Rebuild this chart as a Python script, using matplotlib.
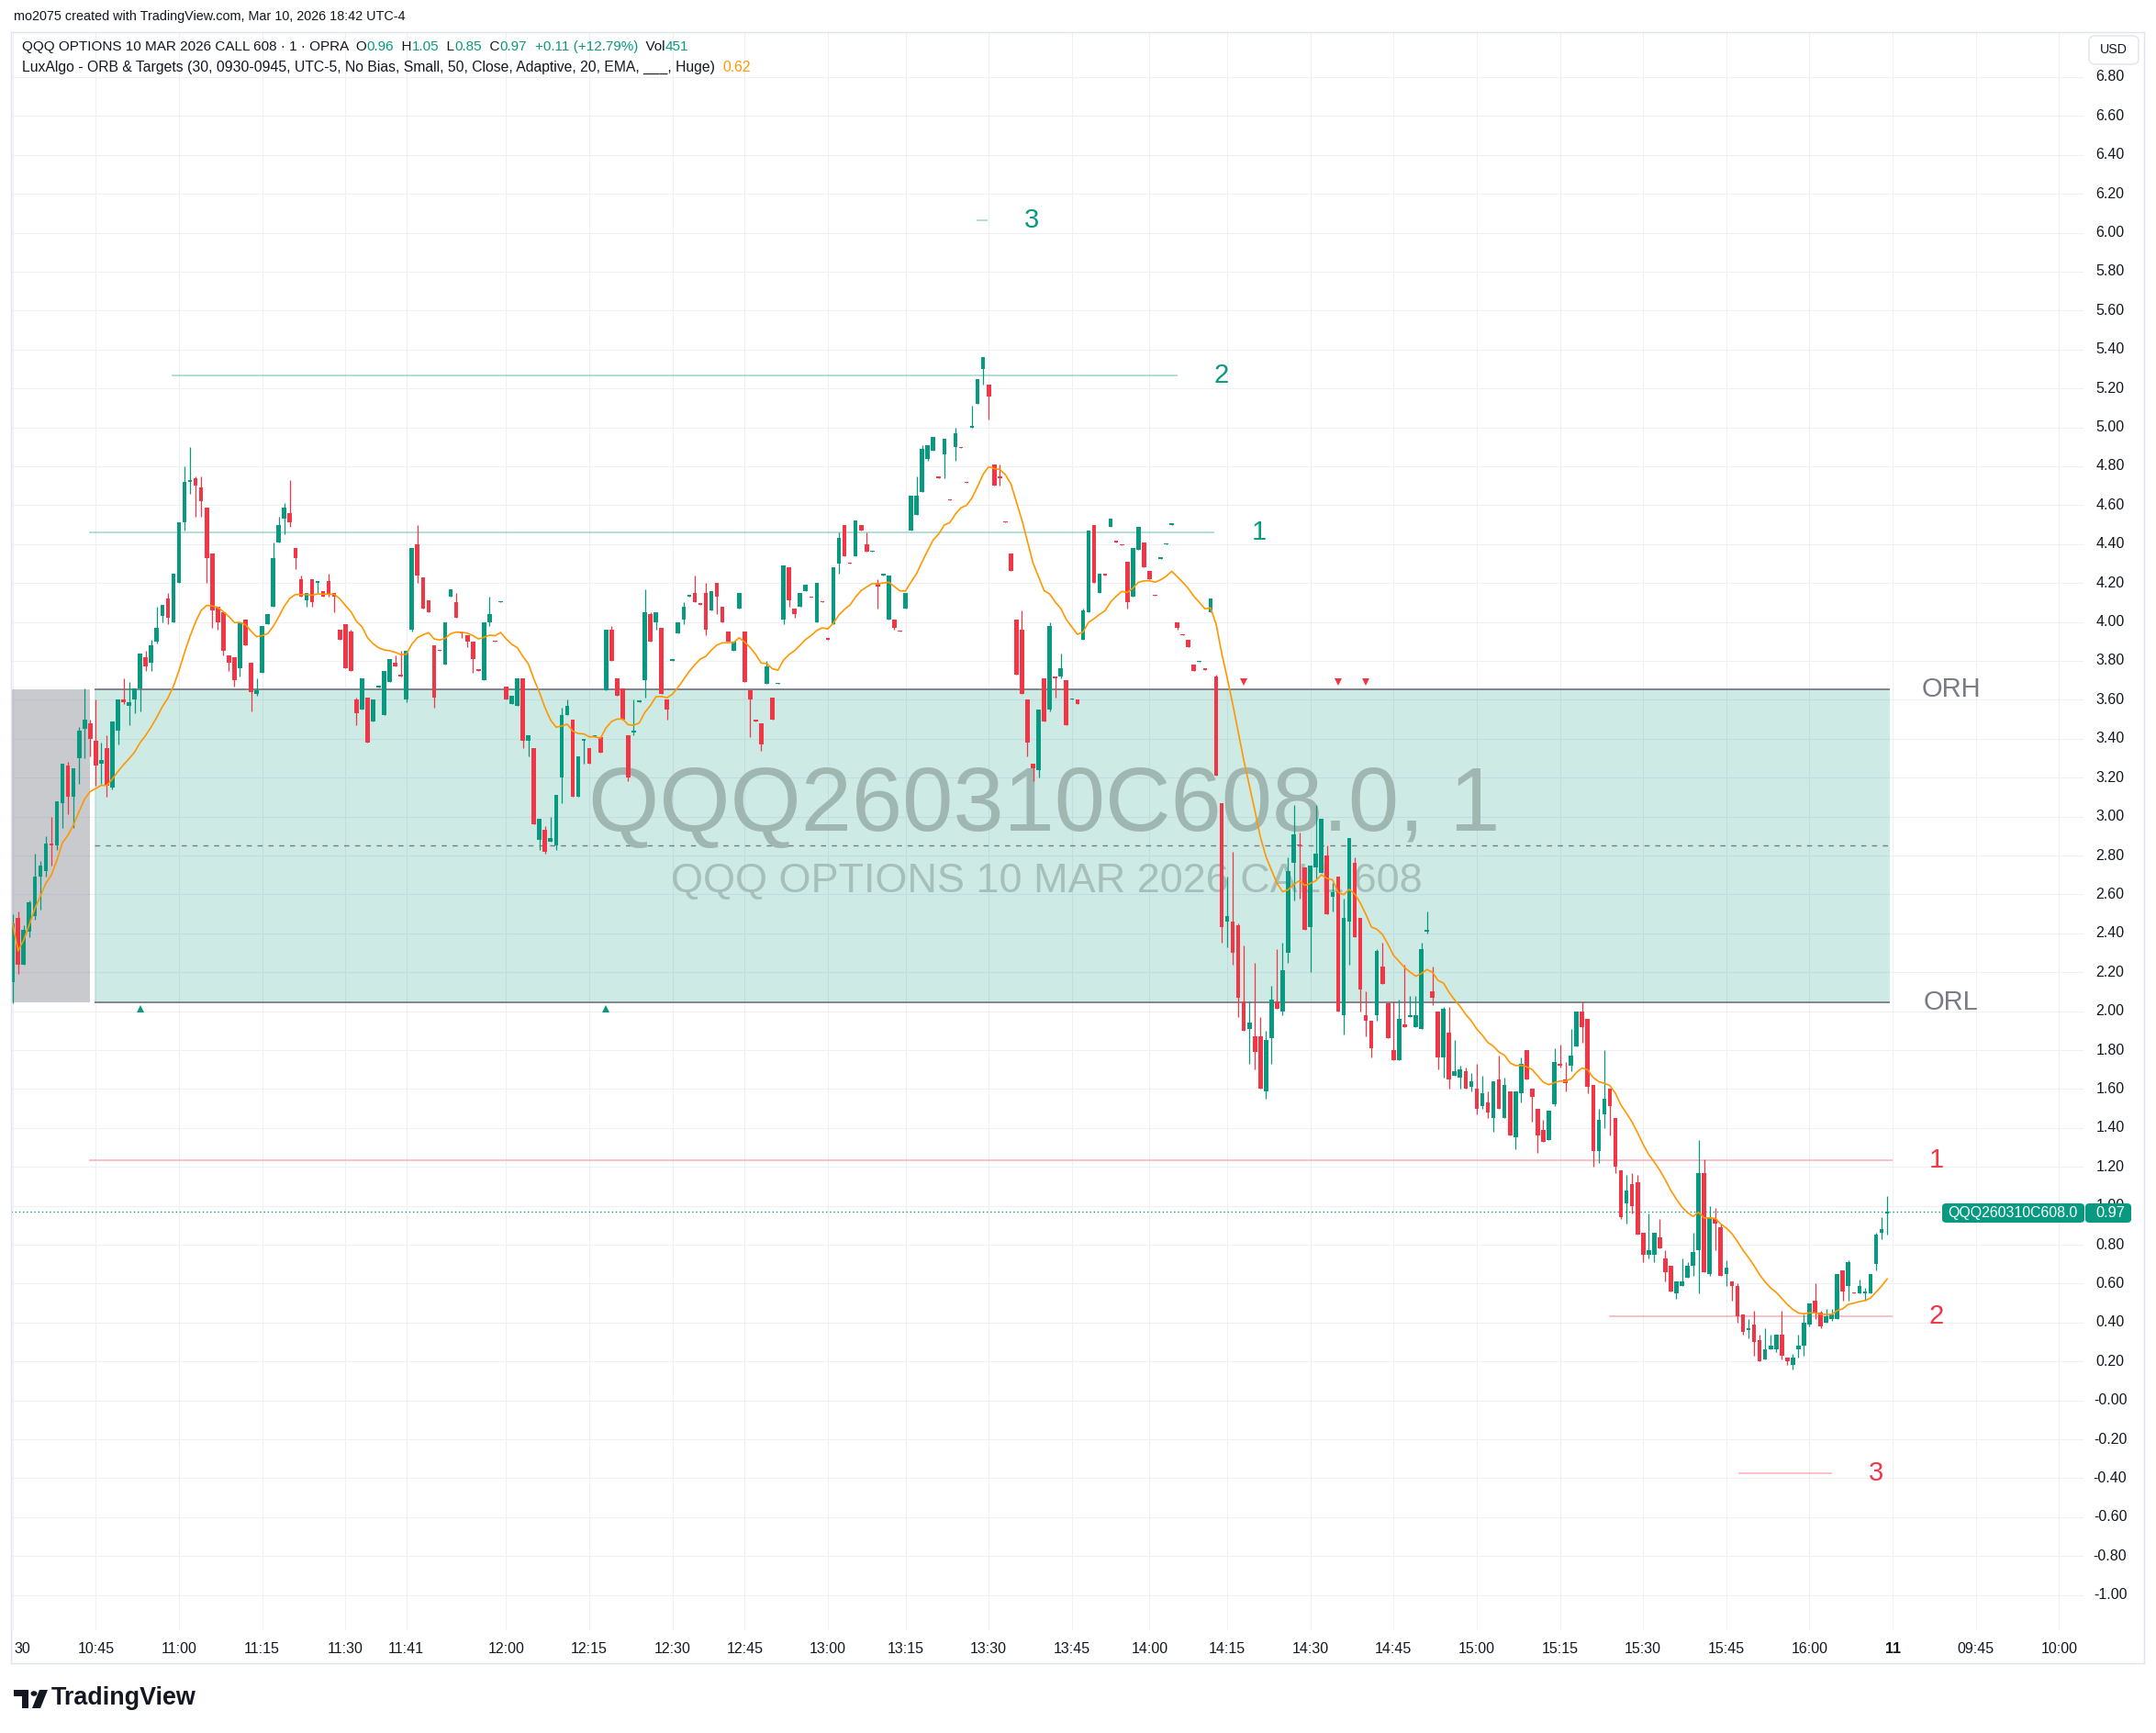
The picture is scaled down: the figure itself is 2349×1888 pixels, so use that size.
import numpy as np
import matplotlib
matplotlib.use("Agg")
import matplotlib.pyplot as plt
from matplotlib.patches import Rectangle, FancyBboxPatch, Polygon, Circle
from matplotlib.lines import Line2D

plt.rcParams['font.family'] = ['Liberation Sans', 'DejaVu Sans']

W, H = 2349, 1888
GREEN = '#089981'
RED = '#f23645'
GRAY = '#787b86'
INK = '#131722'
ORANGE = '#ff9800'
BORDER = '#e0e3eb'
GRID = '#eef0f4'

# 1-minute candles, 10:30 -> 16:14 (bar index = position on the time axis)
opens = [
    2.15, 2.48, 2.24, 2.41, 2.49, 2.69, 2.72, 2.86, 2.85, 3.07,
    3.26, 3.10, 3.30, 3.45, 3.48, 3.39, 3.27, 3.35, 3.15, 3.44,
    3.60, 3.57, 3.60, 3.66, 3.82, 3.79, 3.90, 4.03, 4.12, 4.00,
    4.20, 4.51, 4.72, 4.74, 4.69, 4.59, 4.35, 4.08, 4.05, 3.83,
    3.82, 3.76, 4.01, 3.79, 3.63, 3.74, 3.99, 4.08, 4.41, 4.53,
    4.56, 4.38, 4.22, 4.11, 4.22, 4.20, 4.16, 4.21, 4.15, 3.96,
    3.99, 3.95, 3.60, 3.55, 3.61, 3.49, 3.665, 3.52, 3.69, 3.79,
    3.73, 3.60, 3.96, 4.40, 4.23, 4.11, 3.88, 3.855, 3.78, 4.13,
    4.10, 3.945, 3.93, 3.90, 3.755, 3.70, 4.00, 3.905, 4.10, 3.67,
    3.58, 3.57, 3.71, 3.39, 3.35, 2.88, 2.93, 2.87, 2.85, 3.20,
    3.52, 3.50, 3.10, 3.39, 3.35, 3.41, 3.41, 3.65, 3.96, 3.71,
    3.66, 3.42, 3.43, 3.59, 3.70, 4.04, 4.00, 3.97, 3.60, 3.80,
    3.94, 4.01, 4.13, 4.15, 4.095, 4.15, 4.06, 4.20, 4.08, 3.95,
    3.85, 4.07, 3.95, 3.65, 3.50, 3.48, 3.68, 3.61, 3.68, 4.01,
    4.28, 4.07, 4.08, 4.16, 4.13, 4.00, 4.105, 3.915, 3.99, 4.30,
    4.50, 4.305, 4.34, 4.50, 4.40, 4.36, 4.20, 4.24, 4.01, 4.01,
    3.955, 4.07, 4.47, 4.55, 4.67, 4.84, 4.88, 4.745, 4.86, 4.63,
    4.90, 4.90, 4.72, 5.00, 5.12, 5.30, 5.22, 4.81, 4.75, 4.515,
    4.35, 4.01, 3.96, 3.60, 3.27, 3.24, 3.71, 3.55, 3.72, 3.72,
    3.70, 3.60, 3.60, 3.91, 4.05, 4.50, 4.15, 4.245, 4.49, 4.415,
    4.40, 4.31, 4.13, 4.37, 4.41, 4.26, 4.14, 4.325, 4.40, 4.50,
    4.00, 3.935, 3.91, 3.78, 3.795, 3.76, 4.05, 3.72, 3.07, 2.46,
    2.46, 2.44, 2.05, 1.91, 1.87, 1.87, 1.59, 1.86, 2.05, 2.00,
    2.30, 2.76, 2.855, 2.74, 2.43, 2.74, 2.71, 2.80, 2.59, 2.69,
    1.98, 2.46, 2.76, 2.48, 1.98, 1.95, 1.98, 2.23, 2.04, 1.80,
    1.75, 1.93, 1.97, 1.92, 1.91, 2.41, 2.10, 2.00, 1.76, 1.89,
    1.67, 1.66, 1.69, 1.61, 1.60, 1.51, 1.53, 1.45, 1.65, 1.45,
    1.59, 1.35, 1.58, 1.80, 1.60, 1.50, 1.39, 1.34, 1.52, 1.73,
    1.65, 1.72, 1.82, 2.00, 1.96, 1.62, 1.28, 1.47, 1.60, 1.45,
    1.18, 1.01, 1.11, 1.12, 0.86, 0.75, 0.75, 0.84, 0.73, 0.69,
    0.55, 0.59, 0.63, 0.69, 0.77, 1.17, 0.65, 0.93, 0.89, 0.65,
    0.61, 0.59, 0.44, 0.36, 0.39, 0.31, 0.21, 0.26, 0.26, 0.34,
    0.22, 0.18, 0.26, 0.28, 0.39, 0.51, 0.45, 0.40, 0.42, 0.42,
    0.67, 0.59, 0.555, 0.55, 0.55, 0.55, 0.70, 0.86, 0.96,
]
highs = [
    2.50, 2.51, 2.44, 2.57, 2.81, 2.77, 2.90, 3.00, 3.08, 3.27,
    3.28, 3.25, 3.46, 3.66, 3.50, 3.60, 3.38, 3.42, 3.49, 3.60,
    3.71, 3.69, 3.66, 3.84, 3.85, 3.91, 4.08, 4.09, 4.15, 4.25,
    4.51, 4.80, 4.90, 4.75, 4.75, 4.59, 4.35, 4.08, 4.05, 3.83,
    3.82, 4.00, 4.01, 3.79, 3.71, 3.98, 4.04, 4.41, 4.54, 4.61,
    4.73, 4.38, 4.24, 4.15, 4.22, 4.21, 4.16, 4.25, 4.15, 3.96,
    3.99, 3.96, 3.61, 3.71, 3.61, 3.60, 3.67, 3.75, 3.81, 3.83,
    3.85, 3.85, 4.38, 4.50, 4.23, 4.11, 3.88, 3.855, 4.00, 4.17,
    4.15, 3.945, 3.93, 3.90, 3.755, 4.00, 4.13, 3.905, 4.105, 3.67,
    3.62, 3.71, 3.71, 3.42, 3.35, 2.99, 2.95, 3.00, 3.11, 3.56,
    3.60, 3.50, 3.31, 3.40, 3.35, 3.415, 3.41, 3.96, 3.98, 3.71,
    3.66, 3.42, 3.60, 3.595, 4.17, 4.05, 4.05, 3.97, 3.60, 3.81,
    4.00, 4.10, 4.14, 4.24, 4.095, 4.20, 4.16, 4.20, 4.08, 3.95,
    3.90, 4.15, 3.95, 3.65, 3.50, 3.48, 3.80, 3.61, 3.685, 4.29,
    4.28, 4.07, 4.15, 4.19, 4.13, 4.20, 4.105, 3.915, 4.28, 4.46,
    4.50, 4.305, 4.52, 4.50, 4.46, 4.365, 4.22, 4.245, 4.24, 4.01,
    3.955, 4.15, 4.65, 4.75, 4.91, 4.91, 4.95, 4.745, 4.94, 4.63,
    5.00, 4.90, 4.72, 5.11, 5.25, 5.36, 5.22, 4.81, 4.81, 4.515,
    4.35, 4.01, 4.06, 3.60, 3.27, 3.55, 3.71, 4.00, 3.72, 3.84,
    3.70, 3.605, 3.60, 4.07, 4.47, 4.50, 4.25, 4.245, 4.53, 4.415,
    4.40, 4.31, 4.38, 4.49, 4.41, 4.26, 4.14, 4.33, 4.405, 4.505,
    4.00, 3.935, 3.91, 3.78, 3.80, 3.76, 4.12, 3.73, 3.07, 2.69,
    2.82, 2.45, 2.34, 2.05, 2.25, 1.97, 1.90, 2.13, 2.32, 2.35,
    2.79, 3.06, 2.92, 2.74, 2.75, 3.06, 2.99, 2.85, 2.66, 2.69,
    2.58, 2.89, 2.79, 2.48, 2.10, 1.95, 2.32, 2.35, 2.04, 2.05,
    2.06, 2.24, 2.08, 2.08, 2.35, 2.51, 2.23, 2.00, 2.02, 2.02,
    1.85, 1.72, 1.71, 1.68, 1.73, 1.67, 1.59, 1.64, 1.77, 1.66,
    1.59, 1.59, 1.76, 1.80, 1.60, 1.50, 1.44, 1.49, 1.81, 1.83,
    1.74, 1.91, 2.00, 2.05, 1.96, 1.62, 1.50, 1.80, 1.60, 1.45,
    1.18, 1.16, 1.17, 1.16, 0.86, 0.96, 0.86, 0.93, 0.77, 0.69,
    0.61, 0.73, 0.71, 0.86, 1.34, 1.24, 1.00, 0.99, 0.91, 0.72,
    0.61, 0.60, 0.44, 0.42, 0.46, 0.34, 0.37, 0.34, 0.34, 0.46,
    0.22, 0.24, 0.34, 0.44, 0.50, 0.60, 0.46, 0.47, 0.47, 0.65,
    0.67, 0.72, 0.555, 0.62, 0.58, 0.65, 0.86, 0.94, 1.05,
]
lows = [
    2.04, 2.19, 2.24, 2.38, 2.47, 2.52, 2.69, 2.75, 2.83, 2.94,
    3.01, 2.94, 3.17, 3.30, 3.31, 3.16, 3.17, 3.10, 3.14, 3.37,
    3.58, 3.47, 3.53, 3.54, 3.75, 3.75, 3.89, 4.00, 3.99, 4.00,
    4.20, 4.47, 4.66, 4.54, 4.54, 4.20, 3.97, 3.96, 3.83, 3.75,
    3.67, 3.72, 3.88, 3.54, 3.62, 3.74, 3.99, 4.08, 4.41, 4.45,
    4.49, 4.27, 4.13, 4.08, 4.08, 4.15, 4.13, 4.13, 4.05, 3.91,
    3.76, 3.75, 3.47, 3.55, 3.38, 3.49, 3.665, 3.52, 3.69, 3.77,
    3.72, 3.59, 3.95, 4.20, 4.07, 4.05, 3.56, 3.85, 3.78, 4.13,
    4.02, 3.92, 3.87, 3.74, 3.75, 3.70, 3.98, 3.90, 4.10, 3.60,
    3.58, 3.57, 3.35, 3.31, 2.96, 2.83, 2.81, 2.87, 2.83, 3.07,
    3.52, 3.10, 3.10, 3.27, 3.27, 3.41, 3.33, 3.65, 3.80, 3.62,
    3.50, 3.18, 3.42, 3.59, 3.61, 3.90, 3.96, 3.63, 3.50, 3.80,
    3.94, 3.99, 4.13, 4.10, 4.09, 3.93, 4.06, 4.04, 4.00, 3.90,
    3.85, 4.07, 3.69, 3.41, 3.49, 3.34, 3.68, 3.50, 3.68, 3.99,
    4.08, 4.02, 4.08, 4.16, 4.125, 4.00, 4.10, 3.91, 3.99, 4.25,
    4.34, 4.30, 4.34, 4.47, 4.36, 4.36, 4.07, 4.24, 4.01, 3.96,
    3.95, 4.07, 4.47, 4.55, 4.67, 4.83, 4.88, 4.74, 4.74, 4.625,
    4.83, 4.895, 4.715, 5.00, 5.12, 5.22, 5.04, 4.70, 4.70, 4.51,
    4.26, 3.73, 3.63, 3.31, 3.18, 3.20, 3.49, 3.54, 3.61, 3.71,
    3.47, 3.60, 3.58, 3.91, 4.05, 4.20, 4.15, 4.24, 4.49, 4.41,
    4.395, 4.07, 4.13, 4.37, 4.28, 4.22, 4.135, 4.325, 4.40, 4.50,
    3.96, 3.93, 3.87, 3.75, 3.795, 3.755, 4.05, 3.21, 2.35, 2.33,
    2.24, 1.97, 1.90, 1.73, 1.70, 1.60, 1.55, 1.73, 2.01, 1.98,
    2.25, 2.57, 2.58, 2.42, 2.20, 2.68, 2.71, 2.50, 2.51, 2.00,
    1.88, 2.24, 2.38, 2.00, 1.87, 1.76, 1.95, 2.14, 1.86, 1.75,
    1.75, 1.92, 1.97, 1.92, 1.91, 2.40, 2.03, 1.70, 1.66, 1.60,
    1.67, 1.60, 1.60, 1.59, 1.47, 1.50, 1.45, 1.38, 1.50, 1.45,
    1.36, 1.29, 1.53, 1.65, 1.43, 1.27, 1.33, 1.34, 1.51, 1.71,
    1.59, 1.69, 1.82, 1.84, 1.58, 1.20, 1.22, 1.40, 1.36, 1.17,
    0.93, 0.91, 0.96, 0.85, 0.71, 0.73, 0.71, 0.78, 0.61, 0.56,
    0.52, 0.59, 0.63, 0.64, 0.55, 0.66, 0.64, 0.77, 0.64, 0.59,
    0.51, 0.40, 0.34, 0.32, 0.23, 0.20, 0.21, 0.26, 0.25, 0.21,
    0.18, 0.16, 0.22, 0.23, 0.38, 0.42, 0.37, 0.40, 0.41, 0.42,
    0.51, 0.51, 0.55, 0.55, 0.51, 0.55, 0.67, 0.83, 0.85,
]
closes = [
    2.45, 2.24, 2.42, 2.56, 2.69, 2.75, 2.86, 2.85, 3.08, 3.27,
    3.10, 3.25, 3.44, 3.50, 3.40, 3.26, 3.29, 3.16, 3.49, 3.60,
    3.59, 3.59, 3.66, 3.84, 3.77, 3.88, 3.97, 4.09, 4.02, 4.25,
    4.51, 4.72, 4.73, 4.70, 4.62, 4.33, 4.06, 4.00, 3.85, 3.79,
    3.70, 4.00, 3.88, 3.64, 3.65, 3.98, 4.04, 4.33, 4.50, 4.59,
    4.51, 4.33, 4.13, 4.15, 4.10, 4.21, 4.13, 4.14, 4.13, 3.91,
    3.76, 3.75, 3.53, 3.71, 3.38, 3.60, 3.67, 3.75, 3.81, 3.77,
    3.72, 3.85, 4.38, 4.24, 4.07, 4.05, 3.61, 3.85, 4.00, 4.17,
    4.02, 3.94, 3.90, 3.81, 3.75, 4.00, 4.04, 3.90, 4.105, 3.60,
    3.62, 3.71, 3.39, 3.42, 2.96, 2.99, 2.82, 2.89, 3.11, 3.52,
    3.57, 3.10, 3.31, 3.40, 3.27, 3.415, 3.33, 3.96, 3.80, 3.62,
    3.50, 3.20, 3.44, 3.595, 4.05, 3.90, 4.05, 3.63, 3.55, 3.81,
    4.00, 4.08, 4.14, 4.10, 4.09, 3.96, 4.16, 4.13, 4.00, 3.90,
    3.90, 4.15, 3.69, 3.60, 3.49, 3.37, 3.77, 3.50, 3.685, 4.29,
    4.11, 4.04, 4.15, 4.19, 4.125, 4.20, 4.10, 3.91, 4.28, 4.43,
    4.34, 4.30, 4.52, 4.47, 4.36, 4.365, 4.18, 4.245, 4.24, 3.97,
    3.95, 4.15, 4.65, 4.65, 4.89, 4.91, 4.95, 4.74, 4.94, 4.625,
    4.97, 4.895, 4.715, 5.005, 5.25, 5.36, 5.16, 4.70, 4.74, 4.51,
    4.26, 3.73, 3.63, 3.38, 3.25, 3.55, 3.49, 3.98, 3.71, 3.76,
    3.47, 3.605, 3.58, 4.06, 4.47, 4.20, 4.25, 4.24, 4.53, 4.41,
    4.395, 4.10, 4.38, 4.49, 4.28, 4.22, 4.135, 4.33, 4.405, 4.505,
    3.97, 3.93, 3.87, 3.75, 3.80, 3.755, 4.12, 3.21, 2.43, 2.49,
    2.30, 2.07, 1.90, 1.94, 1.79, 1.60, 1.85, 2.06, 2.01, 2.21,
    2.72, 2.91, 2.85, 2.42, 2.75, 2.81, 2.99, 2.50, 2.61, 2.00,
    2.48, 2.89, 2.38, 2.11, 1.95, 1.81, 2.31, 2.14, 1.86, 1.75,
    1.96, 1.92, 1.98, 1.98, 2.32, 2.415, 2.07, 1.76, 2.01, 1.65,
    1.69, 1.70, 1.60, 1.64, 1.50, 1.58, 1.48, 1.64, 1.50, 1.62,
    1.36, 1.59, 1.73, 1.65, 1.56, 1.36, 1.33, 1.49, 1.74, 1.72,
    1.63, 1.77, 2.00, 1.92, 1.61, 1.28, 1.44, 1.55, 1.51, 1.20,
    0.94, 1.08, 1.00, 0.85, 0.75, 0.77, 0.86, 0.78, 0.66, 0.56,
    0.61, 0.61, 0.69, 0.76, 1.17, 0.66, 0.94, 0.91, 0.64, 0.68,
    0.59, 0.43, 0.35, 0.37, 0.30, 0.20, 0.26, 0.28, 0.34, 0.23,
    0.20, 0.22, 0.28, 0.40, 0.50, 0.45, 0.38, 0.43, 0.44, 0.65,
    0.56, 0.71, 0.55, 0.59, 0.56, 0.65, 0.85, 0.88, 0.97,
]

# time axis
time_grid = [0, 15, 30, 45, 60, 71, 89, 104, 119, 132, 147, 161, 176, 191, 205,
             219, 234, 249, 264, 279, 294, 309, 324, 339, 354, 369]
time_pos = [1.7] + time_grid[1:]
time_labels = ['30', '10:45', '11:00', '11:15', '11:30', '11:41', '12:00', '12:15',
               '12:30', '12:45', '13:00', '13:15', '13:30', '13:45', '14:00', '14:15',
               '14:30', '14:45', '15:00', '15:15', '15:30', '15:45', '16:00', '11',
               '09:45', '10:00']

# price axis
price_labels = ['6.80', '6.60', '6.40', '6.20', '6.00', '5.80', '5.60', '5.40', '5.20',
                '5.00', '4.80', '4.60', '4.40', '4.20', '4.00', '3.80', '3.60', '3.40',
                '3.20', '3.00', '2.80', '2.60', '2.40', '2.20', '2.00', '1.80', '1.60',
                '1.40', '1.20', '1.00', '0.80', '0.60', '0.40', '0.20', '-0.00', '-0.20',
                '-0.40', '-0.60', '-0.80', '-1.00']
price_ticks = [float(s) for s in price_labels]

# opening range + targets (LuxAlgo ORB)
orh = 3.655
orl = 2.045
orb_mid = 2.85
orb_end = 14
up_targets = [4.46, 5.265, 6.065]
up_from = [13.8, 28.7, 173.8]
up_to = [216.7, 210.0, 175.8]
down_targets = [1.235, 0.43, -0.375]
down_from = [13.8, 287.8, 311.1]
down_to = [338.9, 338.9, 328.0]
long_marks = [23, 107]
short_marks = [222, 239, 244]
last_price = 0.97

# legend lines: (text, colour) pieces
legend1 = [('QQQ OPTIONS 10 MAR 2026 CALL 608 · 1 · OPRA  O', INK), ('0.96', GREEN),
           ('  H', INK), ('1.05', GREEN), ('  L', INK), ('0.85', GREEN),
           ('  C', INK), ('0.97', GREEN), ('  ', INK), ('+0.11 (+12.79%)', GREEN),
           ('  Vol', INK), ('451', GREEN)]
legend2 = [('LuxAlgo - ORB & Targets (30, 0930-0945, UTC-5, No Bias, Small, 50, Close, '
            'Adaptive, 20, EMA, ___, Huge)  ', INK), ('0.62', ORANGE)]

# adaptive EMA(20) of closes
ema = []
for i, cl in enumerate(closes):
    if i == 0:
        ema.append(cl)
    else:
        n = min(i + 1, 20)
        a = 2.0 / (n + 1)
        ema.append(ema[-1] + a * (cl - ema[-1]))


fig = plt.figure(figsize=(W / 100, H / 100), dpi=100)
fig.patch.set_facecolor('white')
renderer = fig.canvas.get_renderer()


def fx(px):
    return px / W


def fy(py):
    return 1 - py / H


ax = fig.add_axes([fx(12), fy(1776), fx(2270) - fx(12), fy(35) - fy(1776)])
ax.set_xlim(-0.28, 373.4)
ax.set_ylim(-1.181, 7.031)
for s in ax.spines.values():
    s.set_visible(False)
ax.set_xticks(time_grid)
ax.set_yticks(price_ticks)
ax.tick_params(length=0, labelbottom=False, labelleft=False)
ax.grid(True, color=GRID, lw=0.8)
ax.set_axisbelow(True)

last_bar = len(closes) - 1

# opening range boxes
ax.add_patch(Rectangle((-0.5, orl), orb_end - 0.1 + 0.5, orh - orl, fc=GRAY, alpha=0.4, lw=0, zorder=1))
ax.add_patch(Rectangle((orb_end + 0.8, orl), last_bar + 0.4 - orb_end - 0.8, orh - orl,
                       fc=GREEN, alpha=0.2, lw=0, zorder=1))
ax.hlines([orh, orl], orb_end + 0.8, last_bar + 0.4, colors=GRAY, lw=1.3, zorder=2)
ax.hlines(orb_mid, orb_end + 0.8, last_bar + 0.4, colors=GRAY, lw=1.0,
          linestyles=(0, (4, 4.5)), zorder=2)
ax.text(last_bar + 11.5, orh, 'ORH', color=GRAY, fontsize=21, ha='center', va='center')
ax.text(last_bar + 11.5, orl, 'ORL', color=GRAY, fontsize=21, ha='center', va='center')

# targets
for k, (v, a0, a1) in enumerate(zip(up_targets, up_from, up_to)):
    ax.hlines(v, a0, a1, colors=GREEN, alpha=0.4, lw=1.1, zorder=2)
    ax.text(a1 + 8, v, str(k + 1), color=GREEN, fontsize=21, ha='center', va='center')
for k, (v, a0, a1) in enumerate(zip(down_targets, down_from, down_to)):
    ax.hlines(v, a0, a1, colors=RED, alpha=0.4, lw=1.1, zorder=2)
    ax.text(a1 + 8, v, str(k + 1), color=RED, fontsize=21, ha='center', va='center')

ax.plot(long_marks, [orl - 0.035] * len(long_marks), '^', color=GREEN, ms=6, mew=0, zorder=6)
ax.plot(short_marks, [orh + 0.035] * len(short_marks), 'v', color=RED, ms=6, mew=0, zorder=6)

# last price line
ax.axhline(last_price, color=GREEN, lw=1.0, ls=(0, (1, 2)), zorder=2)

# candles
x = np.arange(len(closes))
o = np.array(opens)
h = np.array(highs)
l = np.array(lows)
c = np.array(closes)
cols = np.where(c >= o, GREEN, RED)
ax.vlines(x, l, h, colors=cols, lw=0.9, zorder=4)
ax.bar(x, np.maximum(np.abs(c - o), 0.006), bottom=np.minimum(o, c), width=0.77,
       color=cols, lw=0, zorder=5)
ax.plot(x, ema, color=ORANGE, lw=1.2, zorder=6)


def text_width(s, size, weight='normal'):
    t = fig.text(0, 0, s, fontsize=size, weight=weight)
    w = t.get_window_extent(renderer).width
    t.remove()
    return w


def fit_text(x0, x1, y, s, color=INK, weight='normal', zorder=3, **kw):
    size = 10 * (x1 - x0) / text_width(s, 10, weight)
    return fig.text(fx(x0), fy(y), s, fontsize=size, color=color, weight=weight,
                    ha='left', va='center', zorder=zorder, **kw)


def draw_pieces(x0, x1, y, pieces):
    # fit the whole line to [x0, x1], then place coloured pieces one after another
    full = ''.join(s for s, _ in pieces)
    size = 10 * (x1 - x0) / text_width(full, 10)
    prefix = ''
    for s, col in pieces:
        xx = x0 + text_width(prefix + 'x', size) - text_width('x', size) if prefix else x0
        fig.text(fx(xx), fy(y), s, fontsize=size, color=col, ha='left', va='center')
        prefix += s


# watermark (in the pane, behind the candles)
for s, x0, x1, yy, col in [('QQQ260310C608.0, 1', 641, 1633, 879, '#9fb6b1'),
                           ('QQQ OPTIONS 10 MAR 2026 CALL 608', 731, 1550, 960, '#a7bfba')]:
    size = 10 * (x1 - x0) / text_width(s, 10)
    xa_, ya_ = ax.transAxes.inverted().transform(fig.transFigure.transform((fx(x0), fy(yy))))
    ax.text(xa_, ya_, s, transform=ax.transAxes, fontsize=size, color=col,
            ha='left', va='center', zorder=3)

# time labels
for p, s in zip(time_pos, time_labels):
    ax.text(p, -0.0115, s, transform=ax.get_xaxis_transform(), ha='center', va='center',
            fontsize=11.5, color=INK, weight='bold' if s == '11' else 'normal')

# price labels
xa = (2299 - 12) / (2270 - 12)
for v, s in zip(price_ticks, price_labels):
    ax.text(xa, v, s, transform=ax.get_yaxis_transform(), ha='center', va='center',
            fontsize=11.5, color=INK, clip_on=False)

# price tag (drawn over the 1.00 label, as in the original)
for (x0, x1) in [(2116, 2271), (2272, 2322)]:
    fig.patches.append(FancyBboxPatch((fx(x0), fy(1332)), fx(x1) - fx(x0), fy(1311) - fy(1332),
                                      boxstyle='round,pad=0,rounding_size=0.002',
                                      transform=fig.transFigure, fc=GREEN, ec='none', zorder=5))
fit_text(2122, 2263, 1321.5, 'QQQ260310C608.0', color='white', zorder=6)
fit_text(2283, 2315, 1321.5, '0.97', color='white', zorder=6)

# USD box
fig.patches.append(FancyBboxPatch((fx(2276), fy(70)), fx(2330) - fx(2276), fy(39) - fy(70),
                                  boxstyle='round,pad=0,rounding_size=0.003',
                                  transform=fig.transFigure, fc='white', ec=BORDER, lw=1, zorder=5))
fit_text(2288, 2318, 54, 'USD', zorder=6)

# frame lines
for (xa0, ya0, xa1, ya1) in [(12, 35, 2336, 35), (12, 1812, 2336, 1812),
                             (12, 35, 12, 1812), (2336, 35, 2336, 1812)]:
    fig.add_artist(Line2D([fx(xa0), fx(xa1)], [fy(ya0), fy(ya1)], color=BORDER, lw=1))

# header and legend
fit_text(15, 442, 18, 'mo2075 created with TradingView.com, Mar 10, 2026 18:42 UTC-4')
draw_pieces(24, 752, 51, legend1)
draw_pieces(24, 821, 73, legend2)

# TradingView logo
fig.add_artist(Rectangle((fx(15), fy(1848)), fx(31) - fx(15), fy(1841) - fy(1848),
                         transform=fig.transFigure, fc=INK, ec='none'))
fig.add_artist(Rectangle((fx(24), fy(1861)), fx(31) - fx(24), fy(1841) - fy(1861),
                         transform=fig.transFigure, fc=INK, ec='none'))
fig.add_artist(Circle((fx(37), fy(1845)), 3.5 / W, transform=fig.transFigure, fc=INK, ec='none'))
fig.add_artist(Polygon([(fx(43), fy(1841)), (fx(52), fy(1841)), (fx(44), fy(1861)), (fx(35), fy(1861))],
                       closed=True, transform=fig.transFigure, fc=INK, ec='none'))
fit_text(56, 214, 1850, 'TradingView', weight='bold')

fig.savefig('out.png', dpi=100, facecolor='white')
